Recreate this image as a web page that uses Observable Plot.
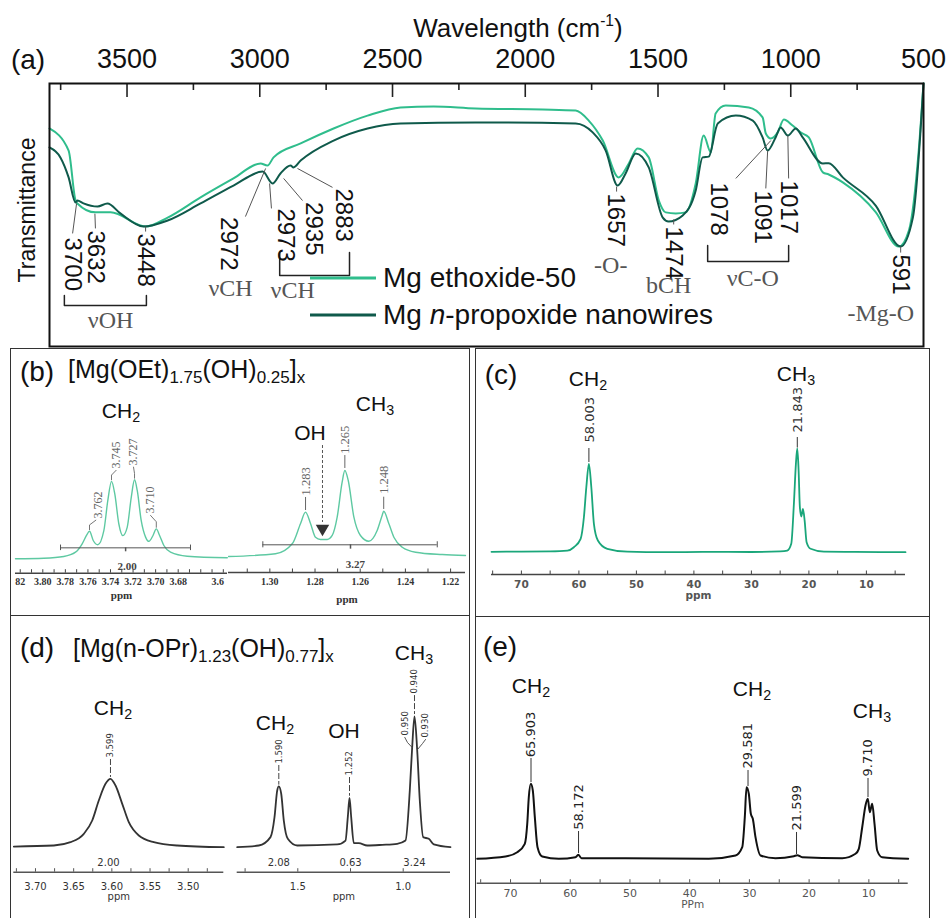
<!DOCTYPE html>
<html><head><meta charset="utf-8">
<script src="https://cdn.jsdelivr.net/npm/d3@7"></script>
<script src="https://cdn.jsdelivr.net/npm/@observablehq/plot@0.6"></script>
<style>
body{margin:0;background:#fff;}
#fig{position:relative;width:950px;height:918px;overflow:hidden;background:#fff;font-family:"Liberation Sans",Arial,sans-serif;}
#fig sub{font-size:0.68em;vertical-align:-0.3em;line-height:0;}
#fig sup{font-size:0.6em;vertical-align:0.7em;line-height:0;}
.box{position:absolute;border:1.5px solid #333;box-sizing:border-box;}
</style></head><body><div id="fig"></div>
<script>
// ---------------- DATA ----------------
// (a) FTIR: [wavenumber cm-1, transmittance a.u.]
const ethoxide50 = [[3792,82.9],[3720,74.5],[3694,55.5],[3687,54.4],[3619,51.0],[3562,51.0],[3430,45.6],[3347,49.0],[3223,56.7],[3099,63.9],[2997,69.6],[2971,68.8],[2948,71.9],[2846,77.2],[2722,82.9],[2594,87.8],[2470,90.9],[2345,91.3],[2187,90.5],[1934,90.1],[1810,89.7],[1761,85.9],[1708,78.3],[1648,64.3],[1610,69.6],[1577,75.3],[1535,71.9],[1497,55.5],[1471,51.0],[1433,50.6],[1396,51.0],[1358,62.0],[1328,80.2],[1301,73.8],[1283,88.6],[1245,91.6],[1158,90.9],[1106,87.1],[1094,81.0],[1075,79.1],[1049,81.4],[1026,86.3],[993,84.0],[963,81.4],[932,79.5],[879,66.2],[857,65.4],[804,62.4],[680,51.1],[593,38.0],[555,44.1],[518,74.5],[500,100]];
const propoxideNW = [[3792,75.7],[3751,71.9],[3720,64.3],[3694,54.8],[3687,55.5],[3664,54.4],[3611,53.2],[3574,54.4],[3525,50.6],[3438,45.6],[3347,47.9],[3223,54.4],[3099,61.2],[2989,66.5],[2952,62.0],[2922,65.8],[2884,68.8],[2873,68.1],[2846,70.7],[2722,78.3],[2594,82.9],[2470,84.8],[2187,85.2],[1810,84.8],[1746,81.4],[1697,74.5],[1652,61.2],[1622,65.8],[1584,73.4],[1535,68.1],[1482,49.0],[1460,47.5],[1407,49.8],[1358,59.3],[1332,71.9],[1309,72.2],[1275,84.8],[1207,87.8],[1143,85.9],[1106,79.5],[1087,74.5],[1057,79.5],[1038,83.3],[1011,80.2],[981,82.9],[955,79.5],[879,69.6],[857,69.7],[804,64.3],[680,53.6],[586,38.0],[540,49.0],[500,100]];
const ftirTickLabels = [3500,3000,2500,2000,1500,1000,500];
const ftirMajorTicks = [3500,3000,2500,2000,1500,1000];
const ftirMinorTicks = [3750,3250,2750,2250,1750,1250,750];
const seriesNames = ["Mg ethoxide-50", "Mg <i>n</i>-propoxide nanowires"];
const aPeakLabels = [
  {label:"3700",w:3705,t:41.4},{label:"3632",w:3619,t:44.1},{label:"3448",w:3430,t:43.0},
  {label:"2972",w:3118,t:49.2},{label:"2973",w:2903,t:52.5},{label:"2935",w:2797,t:54.9},
  {label:"2883",w:2684,t:60.1},{label:"1657",w:1659,t:58.2},{label:"1474",w:1440,t:45.6},
  {label:"1078",w:1271,t:62.4},{label:"1091",w:1106,t:59.3},{label:"1017",w:1008,t:63.1},
  {label:"591",w:586,t:35.0}];
const aLeaders = [
  {w1:3690,t1:54.4,w2:3705,t2:43.0},{w1:3621,t1:50.5,w2:3619,t2:44.9},{w1:3430,t1:45.6,w2:3430,t2:43.7},
  {w1:2978,t1:67.7,w2:3054,t2:49.4},{w1:2963,t1:62.0,w2:2956,t2:52.5},{w1:2910,t1:63.9,w2:2839,t2:55.5},
  {w1:2858,t1:67.7,w2:2726,t2:60.5},{w1:1656,t1:60.8,w2:1656,t2:58.9},{w1:1441,t1:48.3,w2:1441,t2:46.4},
  {w1:1075,t1:78.3,w2:1207,t2:63.9},{w1:1087,t1:74.5,w2:1094,t2:60.1},{w1:1011,t1:80.2,w2:1008,t2:63.9},
  {w1:586,t1:38.0,w2:586,t2:35.7}];
const aBrackets = [
  {id:"OH",w1:3736,w2:3427,top:19.4,bottom:15.6},
  {id:"CH",w1:2925,w2:2662,top:35.7,bottom:27.0},
  {id:"CO",w1:1313,w2:1008,top:38.4,bottom:32.3}];
const aGroupLabels = [
  {label:"νOH",w:3562,t:9.9},{label:"νCH",w:3110,t:22.1},{label:"νCH",w:2876,t:21.3},
  {label:"-O-",w:1678,t:30.8},{label:"bCH",w:1460,t:23.2},{label:"νC-O",w:1143,t:25.9},{label:"-Mg-O",w:661,t:12.5}];

// (b) 1H NMR Mg ethoxide: [ppm, intensity]
const bLeftSpec = [[3.8242,0.3],[3.7991,1.0],[3.7814,3.2],[3.7710,8.6],[3.7651,19.2],[3.7613,29.7],[3.7586,35.1],[3.7553,23.4],[3.7512,18.0],[3.7459,35.7],[3.7424,73.6],[3.7391,98.0],[3.7362,82.1],[3.7326,44.2],[3.7291,29.5],[3.7252,40.0],[3.7216,77.9],[3.7187,100],[3.7163,86.5],[3.7128,48.7],[3.7089,27.6],[3.7060,22.2],[3.7023,29.7],[3.6994,38.0],[3.6965,29.7],[3.6927,17.0],[3.6868,8.6],[3.6720,3.5],[3.6365,1.5]];
const bRightSpec = [[1.3183,1.1],[1.2975,4.3],[1.2900,16.1],[1.2864,39.1],[1.2842,52.1],[1.2820,39.1],[1.2798,23.3],[1.2776,20.7],[1.2746,20.7],[1.2724,25.3],[1.2702,46.3],[1.2680,86.6],[1.2668,100],[1.2653,88.5],[1.2628,46.3],[1.2599,25.3],[1.2562,18.7],[1.2525,31.0],[1.2503,48.3],[1.2496,53.2],[1.2473,38.7],[1.2451,23.3],[1.2414,11.8],[1.2355,6.1],[1.2237,3.4],[1.2134,2.3]];
const bLeftTicks = [3.82,3.81,3.80,3.79,3.78,3.77,3.76,3.75,3.74,3.73,3.72,3.71,3.70,3.69,3.68,3.67,3.66,3.65,3.64];
const bLeftTickVals = [3.82,3.80,3.78,3.76,3.74,3.72,3.70,3.68,3.645];
const bLeftTickText = ["82","3.80","3.78","3.76","3.74","3.72","3.70","3.68","3.6"];
const bRightTicks = [1.31,1.30,1.29,1.28,1.27,1.26,1.25,1.24,1.23,1.22];
const bRightTickVals = [1.30,1.28,1.26,1.24,1.22];
const bRightTickText = ["1.30","1.28","1.26","1.24","1.22"];
const bLeftPeaks = [{t:"3.762",x:3.7512,y:51.1},{t:"3.745",x:3.7347,y:114.3},{t:"3.727",x:3.7196,y:118.0},{t:"3.710",x:3.7051,y:57.4}];
const bLeftHooks = [
  {id:1,x:3.7586,y:37},{id:1,x:3.7586,y:43},{id:1,x:3.7530,y:49},
  {id:2,x:3.7391,y:100},{id:2,x:3.7391,y:106},{id:2,x:3.7350,y:112},
  {id:3,x:3.7187,y:102},{id:3,x:3.7187,y:108},{id:3,x:3.7196,y:116},
  {id:4,x:3.6994,y:40},{id:4,x:3.6994,y:47},{id:4,x:3.7045,y:55}];
const bRightPeaks = [{t:"1.283",x:1.2842,y:71.3},{t:"1.265",x:1.2668,y:119.2},{t:"1.248",x:1.2496,y:73.2}];
const bRightLeaders = [{x:1.2842,y1:69,y2:54},{x:1.2668,y1:117.2,y2:102.3},{x:1.2496,y1:69.3,y2:55.2}];
const bIntegrals = [{x1:3.7843,x2:3.6691,level:14.1,mid:3.7266,t:"2.00",tx:3.7252,ty:-9.5}];
const bIntegralsR = [{x1:1.3031,x2:1.2259,level:14.6,mid:1.2643,t:"3.27",tx:1.2621,ty:-8.0}];
const ohArrow = [{x:1.2767,y1:128.7,y2:40.2,tip:33.3}];

// (c) 13C NMR Mg ethoxide
const cSpec = [[75.2,0.4],[70,0.6],[65,0.8],[62,1.5],[60.87,4.8],[59.70,12.9],[59.13,33.7],[58.71,62.6],[58.26,85.2],[57.84,62.6],[57.39,27.4],[56.70,11.3],[55.06,3.3],[51.58,0.5],[45,0],[38,0.3],[30,0.2],[25,0.8],[23.76,1.6],[23.07,8.1],[22.61,46.7],[22.26,85.2],[22.02,100],[21.79,78.8],[21.57,43.4],[21.32,34.4],[21.04,41.8],[20.74,30.5],[20.40,9.7],[19.70,3.3],[17.39,0.5],[12,0.3],[3.2,0]];
const cTicks = [75,70,65,60,55,50,45,40,35,30,25,20,15,10,5];
const cTickVals = [70,60,50,40,30,20,10];
const cPeaks = [{t:"58.003",x:58.1,y:105.8},{t:"21.843",x:21.9,y:115.4}];
const cLeaders = [{x:58.26,y1:100,y2:86.5},{x:22.02,y1:110.6,y2:100.5}];

// (d) 1H NMR Mg n-propoxide
const dLeftSpec = [[3.7284,0.4],[3.6760,1.9],[3.6542,6.8],[3.6367,19.1],[3.6257,38.7],[3.6171,68.1],[3.6083,92.6],[3.6018,100],[3.5952,90.1],[3.5864,63.2],[3.5778,36.2],[3.5647,16.6],[3.5451,6.8],[3.5144,1.9],[3.4534,-0.6]];
const dRightSpec = [[1.7875,0],[1.6850,1.3],[1.6295,7.7],[1.6105,23.0],[1.5977,43.4],[1.5901,46.5],[1.5787,40.9],[1.5664,20.4],[1.5474,6.4],[1.5028,1.3],[1.3131,2.1],[1.2737,5.1],[1.2628,23.0],[1.2547,37.8],[1.2467,23.0],[1.2343,3.1],[1.2106,3.1],[1.1708,1.3],[1.0996,1.8],[1.0285,2.6],[0.9891,5.1],[0.9687,43.4],[0.9574,76.5],[0.9464,100],[0.9336,74.2],[0.9213,35.9],[0.9052,7.7],[0.8786,6.4],[0.8549,2.1],[0.7756,0]];
const dLeftTicks = [3.725,3.70,3.675,3.65,3.625,3.60,3.575,3.55,3.525,3.50,3.475];
const dLeftTickVals = [3.70,3.65,3.60,3.55,3.50];
const dLeftTickText = ["3.70","3.65","3.60","3.55","3.50"];
const dRightTicks = [1.75,1.5,1.25,1.0];
const dRightTickVals = [1.5,1.0];
const dRightTickText = ["1.5","1.0"];
const dLeftPeaks = [{t:"3.599",x:3.6018,y:131.3}];
const dLeftLeaders = [{x:3.6018,y1:128.4,y2:102}];
const dLeftIntegrals = [{t:"2.00",x:3.6044,y:-24.1}];
const dRightPeaks = [{t:"1.590",x:1.5901,y:64.0},{t:"1.252",x:1.2547,y:54.9},{t:"0.940",x:0.9464,y:117.6},{t:"0.950",x:0.9924,y:85.5},{t:"0.930",x:0.8942,y:83.9}];
const dRightLeaders = [{x:1.5901,y1:62.5,y2:47.5},{x:1.2547,y1:53.3,y2:39},{x:0.9464,y1:116,y2:101.5}];
const dRightHooks = [{id:1,x:0.9924,y:84},{id:1,x:0.9796,y:80.1},{id:1,x:0.9574,y:76.3},{id:2,x:0.8942,y:82.4},{id:2,x:0.9085,y:79.3},{id:2,x:0.9322,y:74.7}];
const dRightIntegrals = [{t:"2.08",x:1.5901,y:-12.2},{t:"0.63",x:1.25,y:-12.2},{t:"3.24",x:0.9464,y:-12.2}];

// (e) 13C NMR Mg n-propoxide
const eSpec = [[75.58,0],[70.84,3.1],[68.88,8.8],[67.61,20.0],[67.20,46.7],[66.94,82.1],[66.60,100],[66.27,91.1],[65.93,55.5],[65.48,15.5],[64.69,3.1],[61.91,0],[59.12,2.1],[58.66,5.3],[58.11,0.8],[50.74,0.8],[36.80,0],[32.32,4.4],[31.20,15.5],[30.77,55.5],[30.48,95.5],[30.10,86.7],[29.76,60.0],[29.43,53.3],[28.98,28.8],[28.14,4.4],[25.63,0.8],[22.56,3.5],[21.99,4.8],[21.16,2.1],[14.46,0.8],[12.23,6.7],[11.68,13.3],[11.11,42.1],[10.56,71.1],[10.17,80.0],[9.84,62.1],[9.44,73.3],[9.05,46.7],[8.60,11.1],[7.77,2.1],[3.41,0]];
const eTicks = [75,70,65,60,55,50,45,40,35,30,25,20,15,10,5];
const eTickVals = [70,60,50,40,30,20,10];
const ePeaks = [{t:"65.903",x:66.57,y:135.5},{t:"58.172",x:58.61,y:38.7},{t:"29.581",x:30.23,y:120.4},{t:"21.599",x:22.11,y:37.7},{t:"9.710",x:10.14,y:109.7}];
const eLeaders = [{x:66.57,y1:133.7,y2:101.7},{x:58.61,y1:36.4,y2:7.1},{x:30.23,y1:117.7,y2:96.4},{x:22.11,y1:35.1,y2:5.7},{x:10.14,y1:107.1,y2:81.7}];

// ---------------- DRAWING ----------------
const SANS = '"Liberation Sans", Arial, sans-serif';
const SERIF = '"Liberation Serif", "Times New Roman", serif';
const DEJAVU = '"DejaVu Sans", Verdana, sans-serif';
const C_LIGHT = "#2fbd8c", C_DARK = "#0f5a4b";
const fig = document.getElementById("fig");

function put(el, left, top) {
  el.style.position = "absolute"; el.style.left = left + "px"; el.style.top = top + "px";
  fig.appendChild(el);
}
function label(html, x, y, o = {}) {
  const d = document.createElement("div");
  d.innerHTML = html;
  Object.assign(d.style, {position:"absolute", left:x+"px", top:y+"px", lineHeight:"1", whiteSpace:"nowrap",
    fontSize:(o.size||24)+"px", fontFamily:o.font||SANS, color:o.color||"#111",
    transform:o.transform||"translate(-50%,-50%)"});
  fig.appendChild(d); return d;
}
function box(l, t, w, h) {
  const d = document.createElement("div"); d.className = "box";
  Object.assign(d.style, {left:l+"px", top:t+"px", width:w+"px", height:h+"px"});
  fig.appendChild(d);
}

// (a) FTIR
const bracketPts = aBrackets.flatMap(b => [
  {id:b.id,w:b.w1,t:b.top},{id:b.id,w:b.w1,t:b.bottom},{id:b.id,w:b.w2,t:b.bottom},{id:b.id,w:b.w2,t:b.top}]);
const ftir = Plot.plot({
  width: 950, height: 350, marginLeft: 49, marginRight: 27, marginTop: 83, marginBottom: 4,
  style: {background: "transparent", fontFamily: SANS, color: "#111"},
  x: {domain: [3792, 500]},
  y: {domain: [0, 100], axis: null},
  marks: [
    Plot.ruleX(ftirMajorTicks, {x: d => d, insetBottom: 263 - 14, stroke: "#222", strokeWidth: 1.6}),
    Plot.ruleX(ftirMinorTicks, {x: d => d, insetBottom: 263 - 7, stroke: "#222", strokeWidth: 1.6}),
    Plot.axisX({anchor: "top", ticks: ftirTickLabels, tickSize: 0, tickPadding: 16, fontSize: 27, label: null, tickFormat: d => String(d)}),
    Plot.line(ethoxide50, {x: d => d[0], y: d => d[1], stroke: C_LIGHT, strokeWidth: 2, curve: "monotone-x"}),
    Plot.line(propoxideNW, {x: d => d[0], y: d => d[1], stroke: C_DARK, strokeWidth: 2, curve: "monotone-x"}),
    Plot.link(aLeaders, {x1: "w1", y1: "t1", x2: "w2", y2: "t2", stroke: "#555", strokeWidth: 1}),
    Plot.line(bracketPts, {x: "w", y: "t", z: "id", stroke: "#222", strokeWidth: 1.5}),
    Plot.text(aPeakLabels, {x: "w", y: "t", text: "label", rotate: 90, textAnchor: "start", lineAnchor: "middle", fontSize: 24, fill: "#111"}),
    Plot.text(aGroupLabels, {x: "w", y: "t", text: "label", fontFamily: SERIF, fontSize: 24, fill: "#555"}),
    Plot.frame({stroke: "#111", strokeWidth: 2})
  ]
});
put(ftir, 0, 0);

// generic NMR sub-plot
function nmr(c) {
  const s = (c.baseY - c.fullY) / 100;
  const yDom = [-(c.axisY - c.baseY) / s, (c.baseY - c.top) / s];
  const innerH = c.axisY - c.top;
  const fmt = new Map(c.tickVals.map((v, i) => [v, c.tickText ? c.tickText[i] : String(v)]));
  const p = Plot.plot({
    width: c.width, height: c.height,
    marginLeft: c.axisL - c.left, marginRight: c.left + c.width - c.axisR,
    marginTop: 0, marginBottom: c.top + c.height - c.axisY,
    style: {background: "transparent", overflow: "hidden", fontFamily: c.font, color: c.axisColor},
    x: {domain: c.domain},
    y: {domain: yDom, axis: null},
    marks: [
      Plot.ruleY([yDom[0]], {stroke: c.axisColor, strokeWidth: 1.4}),
      Plot.ruleX(c.ticks, {x: d => d, insetTop: innerH - 3.5, stroke: c.axisColor, strokeWidth: 1}),
      Plot.axisX({ticks: c.tickVals, tickSize: 0, tickPadding: c.tickPad, tickFormat: d => fmt.get(d),
        fontSize: c.tickSize, label: null, color: c.tickColor, fontWeight: c.tickWeight || "normal"}),
      Plot.text([c.ppm], {frameAnchor: "bottom", dy: c.ppmDy, text: d => d, fontSize: c.ppmSize, fill: c.tickColor, fontWeight: c.tickWeight || "normal"}),
      Plot.line(c.data, {x: d => d[0], y: d => d[1], stroke: c.stroke, strokeWidth: c.sw, curve: "monotone-x"}),
      ...(c.marks || [])
    ]
  });
  put(p, c.left, c.top);
}
const peakText = (arr, size, fill, font) => Plot.text(arr, {x: "x", y: "y", text: "t", rotate: -90, textAnchor: "start", lineAnchor: "middle", fontSize: size, fill, fontFamily: font});
const leaderRules = (arr, stroke, dash) => Plot.ruleX(arr, {x: "x", y1: "y1", y2: "y2", stroke, strokeWidth: 1, strokeDasharray: dash});

// (b) left
nmr({left: 14, top: 420, width: 214, height: 195, axisL: 15, axisR: 227, axisY: 572.7, baseY: 558.5, fullY: 479.3,
  domain: [3.8242, 3.6363], data: bLeftSpec, stroke: "#5ec9a2", sw: 1.4, font: SERIF, axisColor: "#444",
  ticks: bLeftTicks, tickVals: bLeftTickVals, tickText: bLeftTickText, tickPad: 5, tickSize: 10, tickColor: "#333", tickWeight: "bold",
  ppm: "ppm", ppmDy: 26, ppmSize: 11,
  marks: [
    Plot.ruleY(bIntegrals, {x1: "x1", x2: "x2", y: "level", stroke: "#555", strokeWidth: 1}),
    Plot.ruleX(bIntegrals, {x: "x1", y1: d => d.level - 3.5, y2: d => d.level + 3.5, stroke: "#555"}),
    Plot.ruleX(bIntegrals, {x: "x2", y1: d => d.level - 3.5, y2: d => d.level + 3.5, stroke: "#555"}),
    Plot.ruleX(bIntegrals, {x: "mid", y1: d => d.level - 5, y2: "level", stroke: "#555", strokeWidth: 1.5}),
    Plot.text(bIntegrals, {x: "tx", y: "ty", text: "t", fontSize: 11, fontFamily: SERIF, fill: "#444", fontWeight: "bold"}),
    Plot.line(bLeftHooks, {x: "x", y: "y", z: "id", stroke: "#666", strokeWidth: 0.9}),
    peakText(bLeftPeaks, 12, "#666", SERIF)
  ]});
// (b) right
nmr({left: 228, top: 420, width: 240, height: 195, axisL: 228, axisR: 465, axisY: 572, baseY: 557, fullY: 470,
  domain: [1.3183, 1.2134], data: bRightSpec, stroke: "#5ec9a2", sw: 1.4, font: SERIF, axisColor: "#444",
  ticks: bRightTicks, tickVals: bRightTickVals, tickText: bRightTickText, tickPad: 5, tickSize: 10, tickColor: "#333", tickWeight: "bold",
  ppm: "ppm", ppmDy: 30, ppmSize: 11,
  marks: [
    Plot.ruleY(bIntegralsR, {x1: "x1", x2: "x2", y: "level", stroke: "#555", strokeWidth: 1}),
    Plot.ruleX(bIntegralsR, {x: "x1", y1: d => d.level - 3.5, y2: d => d.level + 3.5, stroke: "#555"}),
    Plot.ruleX(bIntegralsR, {x: "x2", y1: d => d.level - 3.5, y2: d => d.level + 3.5, stroke: "#555"}),
    Plot.ruleX(bIntegralsR, {x: "mid", y1: d => d.level - 5, y2: "level", stroke: "#555", strokeWidth: 1.5}),
    Plot.text(bIntegralsR, {x: "tx", y: "ty", text: "t", fontSize: 11, fontFamily: SERIF, fill: "#444", fontWeight: "bold"}),
    leaderRules(bRightLeaders, "#666"),
    peakText(bRightPeaks, 12.5, "#666", SERIF),
    Plot.ruleX(ohArrow, {x: "x", y1: "y1", y2: "y2", stroke: "#555", strokeWidth: 1, strokeDasharray: "3,2"}),
    Plot.dot(ohArrow, {x: "x", y: "tip", symbol: "triangle", r: 5, rotate: 180, fill: "#333", stroke: "none"})
  ]});
// (c)
nmr({left: 477, top: 380, width: 451, height: 237, axisL: 491, axisR: 905, axisY: 574, baseY: 551.7, fullY: 448,
  domain: [75.2, 3.2], data: cSpec, stroke: "#1aa67a", sw: 1.8, font: DEJAVU, axisColor: "#444",
  ticks: cTicks, tickVals: cTickVals, tickPad: 6, tickSize: 10.5, tickColor: "#555",
  ppm: "ppm", ppmDy: 24, ppmSize: 10.5, tickWeight: "bold",
  marks: [leaderRules(cLeaders, "#333"), peakText(cPeaks, 13, "#333", DEJAVU)]});
// (d) left
nmr({left: 12, top: 720, width: 216, height: 198, axisL: 13.3, axisR: 223.3, axisY: 871.7, baseY: 846.3, fullY: 778.3,
  domain: [3.7284, 3.4534], data: dLeftSpec, stroke: "#333", sw: 1.8, font: DEJAVU, axisColor: "#555",
  ticks: dLeftTicks, tickVals: dLeftTickVals, tickText: dLeftTickText, tickPad: 11, tickSize: 10, tickColor: "#333",
  ppm: "ppm", ppmDy: 28, ppmSize: 10,
  marks: [leaderRules(dLeftLeaders, "#444", "6,2"), peakText(dLeftPeaks, 8.5, "#333", DEJAVU),
    Plot.text(dLeftIntegrals, {x: "x", y: "y", text: "t", fontSize: 10, fill: "#333"})]});
// (d) right
nmr({left: 232, top: 660, width: 236, height: 258, axisL: 236.7, axisR: 450, axisY: 871.7, baseY: 846.7, fullY: 716,
  domain: [1.7875, 0.7756], data: dRightSpec, stroke: "#333", sw: 1.8, font: DEJAVU, axisColor: "#555",
  ticks: dRightTicks, tickVals: dRightTickVals, tickText: dRightTickText, tickPad: 11, tickSize: 10, tickColor: "#333",
  ppm: "ppm", ppmDy: 28, ppmSize: 10,
  marks: [leaderRules(dRightLeaders, "#444", "6,2"),
    Plot.line(dRightHooks, {x: "x", y: "y", z: "id", stroke: "#444", strokeWidth: 0.9}),
    peakText(dRightPeaks, 8.5, "#333", DEJAVU),
    Plot.text(dRightIntegrals, {x: "x", y: "y", text: "t", fontSize: 10, fill: "#333"})]});
// (e)
nmr({left: 476, top: 700, width: 452, height: 218, axisL: 476.7, axisR: 907.7, axisY: 882.7, baseY: 858.3, fullY: 783.3,
  domain: [75.58, 3.41], data: eSpec, stroke: "#111", sw: 2, font: DEJAVU, axisColor: "#555",
  ticks: eTicks, tickVals: eTickVals, tickPad: 6, tickSize: 11, tickColor: "#555",
  ppm: "PPm", ppmDy: 25, ppmSize: 10.5,
  marks: [leaderRules(eLeaders, "#333"), peakText(ePeaks, 13, "#222", DEJAVU)]});

// panel boxes
box(10, 348, 460, 268);
box(475, 348, 455, 269);
box(10, 615, 460, 320);
box(475, 616, 455, 320);

// (a) texts and legend
label("Wavelength (cm<sup>-1</sup>)", 518, 28, {size: 26});
label("(a)", 28, 60, {size: 28});
label("Transmittance", 27, 210, {size: 23, transform: "translate(-50%,-50%) rotate(-90deg)"});
const legendRows = [{y: 278, color: C_LIGHT, text: seriesNames[0]}, {y: 315, color: C_DARK, text: seriesNames[1]}];
legendRows.forEach(r => {
  const sw = document.createElementNS("http://www.w3.org/2000/svg", "svg");
  sw.setAttribute("width", 66); sw.setAttribute("height", 6);
  const ln = document.createElementNS("http://www.w3.org/2000/svg", "line");
  ln.setAttribute("x1", 0); ln.setAttribute("x2", 66); ln.setAttribute("y1", 3); ln.setAttribute("y2", 3);
  ln.setAttribute("stroke", r.color); ln.setAttribute("stroke-width", 3);
  sw.appendChild(ln); put(sw, 310, r.y - 3);
  label(r.text, 383, r.y, {size: 28, transform: "translate(0,-50%)"});
});

// panel letters, formulas, group labels
label("(b)", 37, 372, {size: 28});
label("[Mg(OEt)<sub>1.75</sub>(OH)<sub>0.25</sub>]<sub>x</sub>", 68, 369, {size: 25, transform: "translate(0,-50%)"});
label("CH<sub>2</sub>", 121, 410, {size: 21});
label("OH", 310, 432, {size: 21});
label("CH<sub>3</sub>", 375, 403, {size: 21});
label("(c)", 501, 375, {size: 28});
label("CH<sub>2</sub>", 588, 378, {size: 21});
label("CH<sub>3</sub>", 796, 373, {size: 21});
label("(d)", 37, 648, {size: 28});
label("[Mg(n-OPr)<sub>1.23</sub>(OH)<sub>0.77</sub>]<sub>x</sub>", 73, 648, {size: 25, transform: "translate(0,-50%)"});
label("CH<sub>2</sub>", 113, 707, {size: 21});
label("CH<sub>2</sub>", 275, 722, {size: 21});
label("OH", 344, 730, {size: 21});
label("CH<sub>3</sub>", 414, 652, {size: 21});
label("(e)", 500, 647, {size: 28});
label("CH<sub>2</sub>", 531, 685, {size: 21});
label("CH<sub>2</sub>", 752, 688, {size: 21});
label("CH<sub>3</sub>", 872, 710, {size: 21});
</script></body></html>
